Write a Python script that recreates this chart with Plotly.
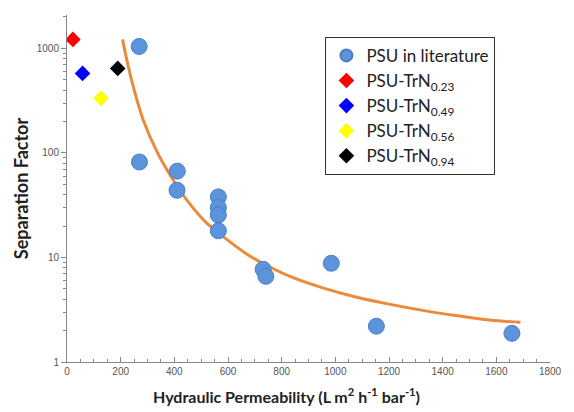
import plotly.graph_objects as go

# PSU in literature
lit_x = [269, 270, 411, 410, 564, 564, 564, 564, 731, 741, 985, 1153, 1658]
lit_y = [1045, 82, 67, 44, 38, 30, 25.5, 18, 7.7, 6.6, 8.8, 2.2, 1.88]

# PSU-TrN membranes
trn_names = ["PSU-TrN<sub>0.23</sub>", "PSU-TrN<sub>0.49</sub>",
             "PSU-TrN<sub>0.56</sub>", "PSU-TrN<sub>0.94</sub>"]
trn_x = [22, 58, 127, 189]
trn_y = [1220, 577, 333, 644]
trn_colors = ["#ff0000", "#0000ff", "#ffff00", "#000000"]

# trend line
fit_x = [207, 223, 247, 284, 338, 411, 465, 520, 581, 665, 720, 836, 956, 1076, 1200, 1331, 1455, 1575, 1690]
fit_y = [1222, 775, 431, 207, 99.5, 47.8, 30.8, 21.4, 15.9, 11.0, 9.06, 6.51, 5.09, 4.19, 3.58, 3.10, 2.77, 2.52, 2.40]

fig = go.Figure()
fig.add_trace(go.Scatter(x=fit_x, y=fit_y, mode="lines", line=dict(color="#ec8a3c", width=3, shape="spline"),
                         showlegend=False, hoverinfo="skip"))
fig.add_trace(go.Scatter(x=lit_x, y=lit_y, mode="markers", name="PSU in literature",
                         marker=dict(symbol="circle", size=16, color="#5d93dc",
                                     line=dict(color="#4a7fc4", width=1))))
for n, xv, yv, c in zip(trn_names, trn_x, trn_y, trn_colors):
    fig.add_trace(go.Scatter(x=[xv], y=[yv], mode="markers", name=n,
                             marker=dict(symbol="diamond", size=12, color=c, line=dict(width=0))))

tick_font = dict(family="Liberation Sans, Arial, sans-serif", size=10, color="#555555")
title_font = dict(family="Lato, Open Sans, sans-serif", size=18, color="#222222")

minor_y = [m * 10 ** e for e in range(0, 4) for m in range(2, 10)]

fig.update_layout(
    width=574, height=412,
    margin=dict(l=67, r=12, t=15, b=50),
    paper_bgcolor="white", plot_bgcolor="white",
    xaxis=dict(range=[0, 1800], tickmode="linear", tick0=0, dtick=200,
               showgrid=False, zeroline=False, showline=True, linecolor="#888888", linewidth=1,
               ticks="inside", ticklen=5, tickcolor="#888888", tickfont=tick_font,
               minor=dict(dtick=50, ticks="inside", ticklen=3, tickcolor="#888888", showgrid=False)),
    yaxis=dict(type="log", range=[0, 3.32], tickvals=[1, 10, 100, 1000], ticktext=["1", "10", "100", "1000"],
               showgrid=False, zeroline=False, showline=True, linecolor="#888888", linewidth=1,
               ticks="outside", ticklen=5, tickcolor="#888888", tickfont=tick_font,
               minor=dict(tickvals=minor_y, ticks="outside", ticklen=3, tickcolor="#888888", showgrid=False),
               title=dict(text="<b>Separation Factor</b>", font=title_font, standoff=3)),
    legend=dict(x=0.535, y=0.937, xanchor="left", yanchor="top",
                bordercolor="#333333", borderwidth=1, bgcolor="white",
                font=dict(family="Lato, Open Sans, sans-serif", size=17, color="#222222"),
                itemsizing="constant", tracegroupgap=0),
    annotations=[dict(text="<b>Hydraulic Permeability (L m<sup>2</sup> h<sup>-1</sup> bar<sup>-1</sup>)</b>",
                      xref="paper", yref="paper", x=0.455, y=-0.097, xanchor="center", yanchor="middle",
                      showarrow=False, font=dict(family="Lato, Open Sans, sans-serif", size=16, color="#222222"))],
)

fig.write_html("out.html")
